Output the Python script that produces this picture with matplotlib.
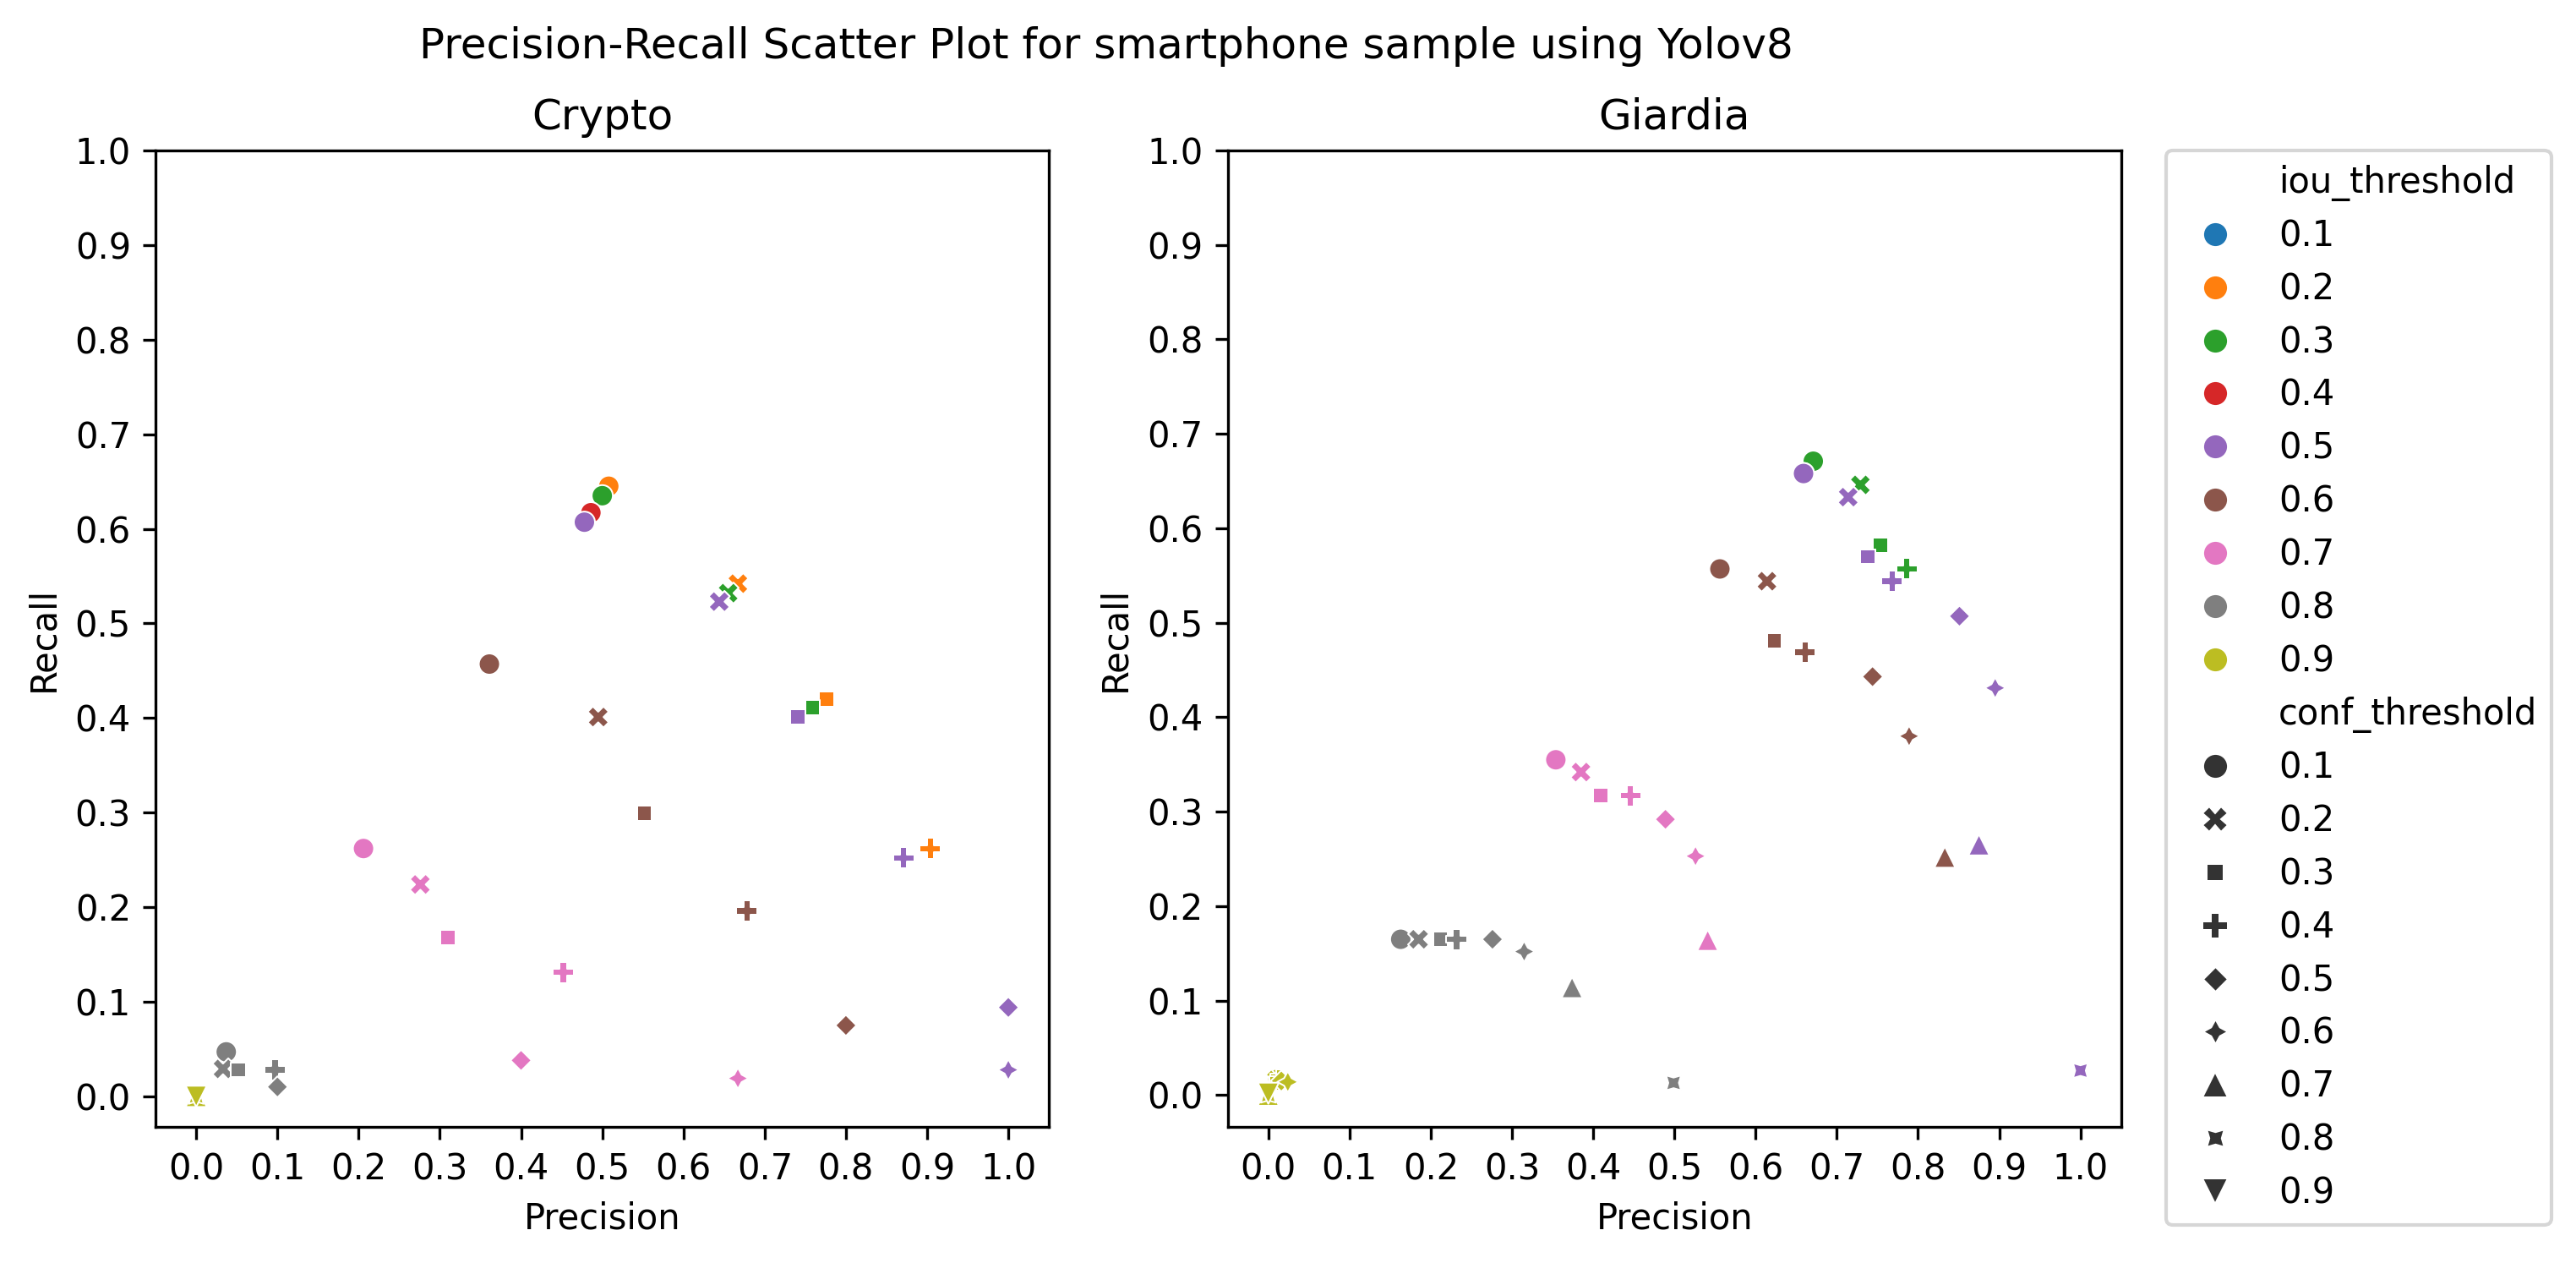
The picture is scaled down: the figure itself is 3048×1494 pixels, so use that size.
import matplotlib
matplotlib.use("Agg")
import matplotlib.pyplot as plt
import numpy as np
import pandas as pd
import seaborn as sns

THRESHOLDS = ["0.1", "0.2", "0.3", "0.4", "0.5", "0.6", "0.7", "0.8", "0.9"]

# Crypto: one row per (iou, conf) point
crypto_iou = [0.1, 0.1, 0.1, 0.1,
              0.2, 0.2, 0.2, 0.2,
              0.3, 0.3, 0.3, 0.3,
              0.4, 0.4, 0.4, 0.4,
              0.5, 0.5, 0.5, 0.5, 0.5, 0.5,
              0.6, 0.6, 0.6, 0.6, 0.6,
              0.7, 0.7, 0.7, 0.7, 0.7, 0.7,
              0.8, 0.8, 0.8, 0.8, 0.8,
              0.9, 0.9, 0.9]
crypto_conf = [0.1, 0.2, 0.3, 0.4,
               0.1, 0.2, 0.3, 0.4,
               0.1, 0.2, 0.3, 0.4,
               0.1, 0.2, 0.3, 0.4,
               0.1, 0.2, 0.3, 0.4, 0.5, 0.6,
               0.1, 0.2, 0.3, 0.4, 0.5,
               0.1, 0.2, 0.3, 0.4, 0.5, 0.6,
               0.1, 0.2, 0.3, 0.4, 0.5,
               0.7, 0.8, 0.9]
crypto_precision = [0.508, 0.667, 0.776, 0.904,
                    0.508, 0.667, 0.776, 0.904,
                    0.500, 0.655, 0.759, 0.871,
                    0.486, 0.644, 0.741, 0.871,
                    0.478, 0.644, 0.741, 0.871, 1.000, 1.000,
                    0.361, 0.495, 0.552, 0.678, 0.800,
                    0.206, 0.276, 0.310, 0.452, 0.400, 0.667,
                    0.037, 0.033, 0.052, 0.097, 0.100,
                    0.000, 0.000, 0.000]
crypto_recall = [0.645, 0.542, 0.420, 0.262,
                 0.645, 0.542, 0.420, 0.262,
                 0.635, 0.532, 0.411, 0.252,
                 0.617, 0.523, 0.401, 0.252,
                 0.607, 0.523, 0.401, 0.252, 0.094, 0.028,
                 0.457, 0.401, 0.299, 0.196, 0.075,
                 0.262, 0.224, 0.168, 0.131, 0.038, 0.019,
                 0.047, 0.029, 0.028, 0.028, 0.010,
                 0.000, 0.000, 0.000]

# Giardia
giardia_iou = [0.1, 0.1, 0.1, 0.1,
               0.2, 0.2, 0.2, 0.2,
               0.3, 0.3, 0.3, 0.3,
               0.4, 0.4, 0.4, 0.4,
               0.5, 0.5, 0.5, 0.5, 0.5, 0.5, 0.5, 0.5,
               0.6, 0.6, 0.6, 0.6, 0.6, 0.6, 0.6,
               0.7, 0.7, 0.7, 0.7, 0.7, 0.7, 0.7,
               0.8, 0.8, 0.8, 0.8, 0.8, 0.8, 0.8, 0.8,
               0.9, 0.9, 0.9, 0.9, 0.9, 0.9, 0.9, 0.9, 0.9]
giardia_conf = [0.1, 0.2, 0.3, 0.4,
                0.1, 0.2, 0.3, 0.4,
                0.1, 0.2, 0.3, 0.4,
                0.1, 0.2, 0.3, 0.4,
                0.1, 0.2, 0.3, 0.4, 0.5, 0.6, 0.7, 0.8,
                0.1, 0.2, 0.3, 0.4, 0.5, 0.6, 0.7,
                0.1, 0.2, 0.3, 0.4, 0.5, 0.6, 0.7,
                0.1, 0.2, 0.3, 0.4, 0.5, 0.6, 0.7, 0.8,
                0.1, 0.2, 0.3, 0.4, 0.5, 0.6, 0.7, 0.8, 0.9]
giardia_precision = [0.671, 0.729, 0.754, 0.786,
                     0.671, 0.729, 0.754, 0.786,
                     0.671, 0.729, 0.754, 0.786,
                     0.659, 0.714, 0.738, 0.768,
                     0.659, 0.714, 0.738, 0.768, 0.851, 0.895, 0.875, 1.000,
                     0.556, 0.614, 0.623, 0.661, 0.744, 0.789, 0.833,
                     0.354, 0.385, 0.409, 0.446, 0.489, 0.526, 0.541,
                     0.163, 0.185, 0.212, 0.232, 0.276, 0.315, 0.374, 0.499,
                     0.012, 0.010, 0.012, 0.014, 0.016, 0.024, 0.000, 0.000, 0.000]
giardia_recall = [0.671, 0.646, 0.582, 0.557,
                  0.671, 0.646, 0.582, 0.557,
                  0.671, 0.646, 0.582, 0.557,
                  0.658, 0.633, 0.570, 0.544,
                  0.658, 0.633, 0.570, 0.544, 0.507, 0.431, 0.265, 0.026,
                  0.557, 0.544, 0.481, 0.469, 0.443, 0.380, 0.252,
                  0.355, 0.342, 0.317, 0.317, 0.292, 0.253, 0.164,
                  0.165, 0.165, 0.165, 0.165, 0.165, 0.152, 0.114, 0.013,
                  0.017, 0.016, 0.015, 0.016, 0.015, 0.014, 0.000, 0.000, 0.002]


def make_frame(iou, conf, precision, recall):
    return pd.DataFrame({
        "iou_threshold": [f"{v:.1f}" for v in iou],
        "conf_threshold": [f"{v:.1f}" for v in conf],
        "Precision": precision,
        "Recall": recall,
    })


fig = plt.figure(figsize=(10.16, 4.98), dpi=300)
ax1 = fig.add_axes([0.0604, 0.1078, 0.3468, 0.7731])
ax2 = fig.add_axes([0.4766, 0.1078, 0.3468, 0.7731])

panels = [
    (ax1, "Crypto", make_frame(crypto_iou, crypto_conf, crypto_precision, crypto_recall)),
    (ax2, "Giardia", make_frame(giardia_iou, giardia_conf, giardia_precision, giardia_recall)),
]

ticks = np.round(np.arange(0, 1.01, 0.1), 1)
for ax, name, df in panels:
    sns.scatterplot(
        data=df, x="Precision", y="Recall", ax=ax,
        hue="iou_threshold", hue_order=THRESHOLDS, palette="tab10",
        style="conf_threshold", style_order=THRESHOLDS,
    )
    ax.set_title(name, fontsize=12)
    ax.set_xticks(ticks)
    ax.set_yticks(ticks)

ax1.get_legend().remove()
sns.move_legend(ax2, "upper left", bbox_to_anchor=(1.05, 1.0), borderaxespad=0)

# bigger legend markers, like the scatter points themselves
leg = ax2.get_legend()
for h in leg.legend_handles:
    if hasattr(h, "set_markersize"):
        h.set_markersize(7)
    elif hasattr(h, "set_sizes"):
        h.set_sizes([45])

fig.suptitle("Precision-Recall Scatter Plot for smartphone sample using Yolov8",
             fontsize=12, x=0.4295, y=0.979)
fig.savefig("out.png", dpi=300)
